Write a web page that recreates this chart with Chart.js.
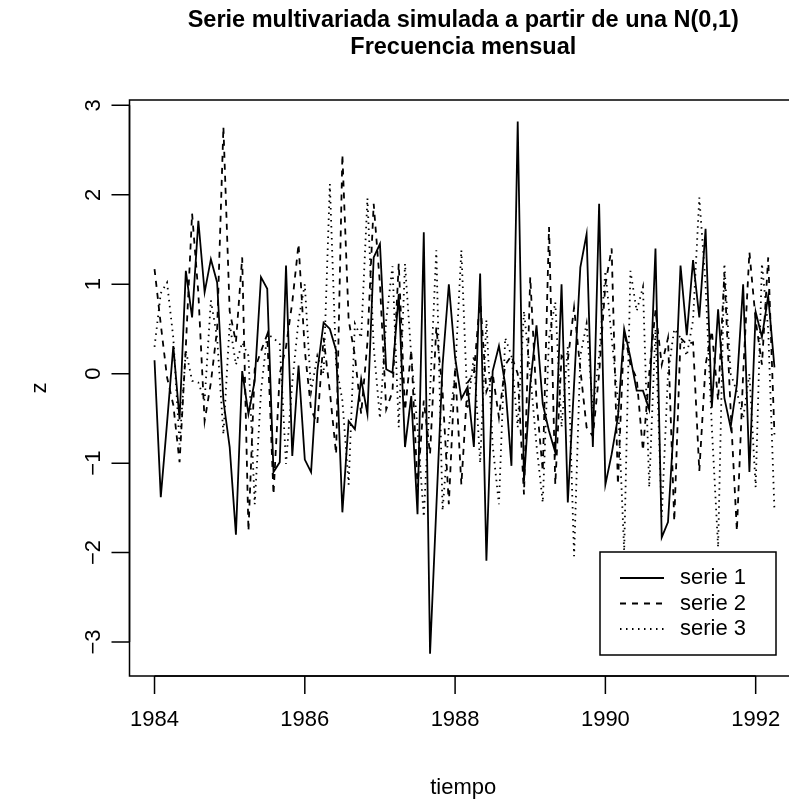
<!DOCTYPE html>
<html>
<head>
<meta charset="utf-8">
<script src="https://cdn.jsdelivr.net/npm/chart.js@4.4.0/dist/chart.umd.min.js"></script>
<style>
  html, body { margin: 0; padding: 0; background: #fff; overflow: hidden; }
  #wrap { width: 800px; height: 803px; }
</style>
</head>
<body>
<div id="wrap"><canvas id="myChart" width="800" height="803"></canvas></div>
<script>
// monthly series starting January 1984
const startYear = 1984;
const monthsPerYear = 12;

const serie1 = [
  0.15, -1.38, -0.55, 0.31, -0.51, 1.15, 0.63, 1.71, 0.91, 1.28, 1.02, -0.30,
  -0.82, -1.80, 0.03, -0.45, -0.08, 1.08, 0.95, -1.10, -0.99, 1.21, -0.92, 0.09,
  -0.96, -1.10, 0.03, 0.57, 0.50, 0.26, -1.55, -0.53, -0.62, -0.06, -0.45, 1.30,
  1.45, 0.05, 0.01, 0.89, -0.82, -0.25, -1.57, 1.58, -3.13, -1.50, 0.10, 1.00,
  0.18, -0.28, -0.15, -0.82, 1.12, -2.09, 0.03, 0.31, -0.12, -1.03, 2.82, -1.20,
  -0.12, 0.54, -0.34, -0.64, -0.88, 1.00, -1.44, -0.12, 1.19, 1.56, -0.82, 1.90,
  -1.24, -0.90, -0.49, 0.50, 0.18, -0.19, -0.19, -0.40, 1.40, -1.83, -1.66, -0.49,
  1.21, 0.43, 1.27, 0.63, 1.62, -0.38, 0.72, -0.27, -0.60, -0.12, 1.00, -1.10,
  0.69, 0.41, 0.87, 0.07
];
const serie2 = [
  1.17, 0.55, -0.04, -0.35, -0.99, 0.30, 1.79, 0.90, -0.53, -0.10, 0.50, 2.76,
  0.70, 0.35, 1.30, -1.76, 0.05, 0.25, 0.44, -1.35, 0.00, 0.30, 0.80, 1.45,
  0.26, -0.40, -0.56, 0.40, -0.20, -0.90, 2.45, 0.60, 0.20, -0.45, 0.35, 1.90,
  1.00, -0.40, -0.20, 1.23, -0.41, 0.26, -1.27, -0.30, -0.90, 0.52, -0.20, -1.46,
  0.07, -1.24, -0.10, 0.00, 0.85, -0.20, 0.00, -0.49, 0.10, 0.20, 0.00, -1.35,
  1.08, -0.30, -1.09, 1.64, -1.24, 0.20, 0.15, 0.74, 0.05, -0.60, -0.70, 0.00,
  1.00, 1.40, -1.24, 0.48, 0.10, -0.05, -0.86, 0.00, 0.71, 0.10, 0.40, -1.65,
  0.40, 0.33, 0.35, -1.09, 0.10, 0.48, -0.30, 1.12, -0.40, -1.76, 0.00, 1.36,
  0.60, 0.10, 1.30, -0.68
];
const serie3 = [
  0.30, 0.90, 1.02, 0.40, -0.79, 0.26, -0.08, -0.10, -0.30, 0.82, 0.40, -0.68,
  0.56, 0.10, 0.35, 0.20, -1.46, -0.20, 0.44, 0.40, 0.33, -1.01, -0.10, 0.60,
  1.00, -0.20, 0.20, 0.00, 2.12, 0.10, -0.30, -1.24, 0.56, 0.40, 1.96, 0.30,
  -0.50, 0.60, 1.20, -0.60, 1.23, 0.20, -0.60, -1.60, -0.20, 1.38, -1.53, -0.60,
  0.00, 1.38, -0.40, 0.20, -1.00, 0.60, -0.80, -1.46, 0.40, 0.20, -0.60, 0.70,
  0.00, -0.80, -1.44, 0.40, 0.80, -0.60, 0.30, -2.04, 0.20, 0.56, -0.40, 0.20,
  1.15, 0.40, -0.30, -1.98, 1.15, 0.70, 0.97, -1.27, 0.50, -1.60, 0.00, 0.50,
  0.40, 0.20, 0.60, 1.97, 1.00, -0.60, -1.94, 1.23, 0.00, -0.20, -0.50, 0.00,
  -1.27, 1.23, 0.50, -1.53
];

const seriesNames = ["serie 1", "serie 2", "serie 3"];
const seriesDash = [[], [6, 6], [1.5, 4.5]];
const xTicks = [1984, 1986, 1988, 1990, 1992];
const yTicks = [-3, -2, -1, 0, 1, 2, 3];
const titleLines = ["Serie multivariada simulada a partir de una N(0,1)", "Frecuencia mensual"];
const xTitle = "tiempo";
const yTitle = "z";

const FONT = "'Liberation Sans', Arial, sans-serif";

function toPoints(values) {
  return values.map((v, i) => ({ x: startYear + i / monthsPerYear, y: v }));
}

// base-graphics style frame, axes, titles and legend
const rFrame = {
  id: "rFrame",
  afterDraw(chart) {
    const ctx = chart.ctx;
    const area = chart.chartArea;
    const xs = chart.scales.x;
    const ys = chart.scales.y;
    ctx.save();
    ctx.strokeStyle = "#000";
    ctx.fillStyle = "#000";
    ctx.lineWidth = 1.5;
    ctx.setLineDash([]);

    // box
    ctx.strokeRect(area.left, area.top, area.right - area.left, area.bottom - area.top);

    // x axis
    const tick = 18;
    ctx.beginPath();
    ctx.moveTo(xs.getPixelForValue(xTicks[0]), area.bottom);
    ctx.lineTo(xs.getPixelForValue(xTicks[xTicks.length - 1]), area.bottom);
    xTicks.forEach(t => {
      const px = xs.getPixelForValue(t);
      ctx.moveTo(px, area.bottom);
      ctx.lineTo(px, area.bottom + tick);
    });
    ctx.stroke();
    ctx.font = "22px " + FONT;
    ctx.textAlign = "center";
    ctx.textBaseline = "middle";
    xTicks.forEach(t => {
      ctx.fillText(String(t), xs.getPixelForValue(t), area.bottom + 44);
    });

    // y axis
    ctx.beginPath();
    ctx.moveTo(area.left, ys.getPixelForValue(yTicks[0]));
    ctx.lineTo(area.left, ys.getPixelForValue(yTicks[yTicks.length - 1]));
    yTicks.forEach(t => {
      const py = ys.getPixelForValue(t);
      ctx.moveTo(area.left, py);
      ctx.lineTo(area.left - tick, py);
    });
    ctx.stroke();
    yTicks.forEach(t => {
      ctx.save();
      ctx.translate(area.left - 36, ys.getPixelForValue(t));
      ctx.rotate(-Math.PI / 2);
      ctx.fillText(t < 0 ? "\u2212" + Math.abs(t) : String(t), 0, 0);
      ctx.restore();
    });

    // axis titles
    const midX = (area.left + area.right) / 2;
    ctx.fillText(xTitle, midX, 788);
    ctx.save();
    ctx.translate(40, (area.top + area.bottom) / 2);
    ctx.rotate(-Math.PI / 2);
    ctx.fillText(yTitle, 0, 0);
    ctx.restore();

    // main title
    ctx.font = "bold 23.5px " + FONT;
    ctx.fillText(titleLines[0], midX, 21);
    ctx.fillText(titleLines[1], midX, 48);

    // legend
    const lg = { left: 600, top: 552, right: 776, bottom: 655 };
    ctx.fillStyle = "#fff";
    ctx.fillRect(lg.left, lg.top, lg.right - lg.left, lg.bottom - lg.top);
    ctx.strokeRect(lg.left, lg.top, lg.right - lg.left, lg.bottom - lg.top);
    ctx.font = "22px " + FONT;
    ctx.textAlign = "left";
    ctx.fillStyle = "#000";
    seriesNames.forEach((name, i) => {
      const y = 578 + i * 25.5;
      ctx.beginPath();
      ctx.setLineDash(seriesDash[i]);
      ctx.lineWidth = 1.8;
      ctx.moveTo(620, y);
      ctx.lineTo(664, y);
      ctx.stroke();
      ctx.setLineDash([]);
      ctx.fillText(name, 680, y);
    });
    ctx.restore();
  }
};

const ctx = document.getElementById("myChart").getContext("2d");
const allSeries = [serie1, serie2, serie3];

const myChart = new Chart(ctx, {
  type: "line",
  data: {
    datasets: allSeries.map((values, i) => ({
      label: seriesNames[i],
      data: toPoints(values),
      borderColor: "#000",
      borderWidth: 1.8,
      borderDash: seriesDash[i],
      pointRadius: 0,
      tension: 0,
      fill: false
    }))
  },
  options: {
    responsive: false,
    animation: false,
    devicePixelRatio: 1,
    layout: { padding: { left: 129.5, top: 100, right: 3, bottom: 127 } },
    plugins: {
      legend: { display: false },
      title: { display: false },
      tooltip: { enabled: false }
    },
    scales: {
      x: { type: "linear", display: false, min: 1983.667, max: 1992.55 },
      y: { type: "linear", display: false, min: -3.38, max: 3.06 }
    }
  },
  plugins: [rFrame]
});
</script>
</body>
</html>
